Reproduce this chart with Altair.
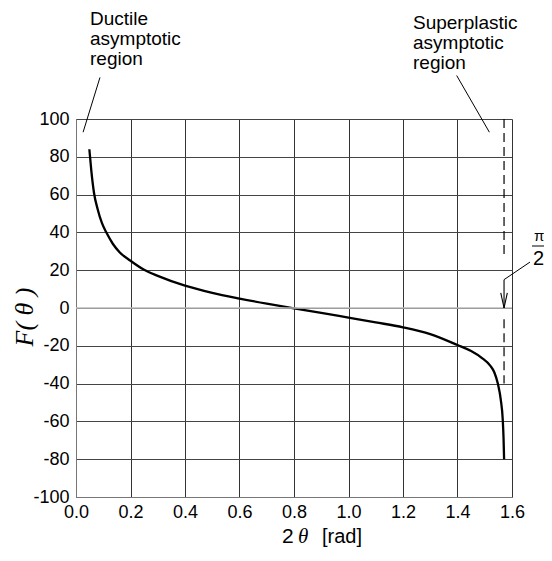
import altair as alt
import pandas as pd
import math

# ---- data ----
two_theta = [0.049, 0.056, 0.066, 0.08, 0.095, 0.113, 0.135, 0.16, 0.2, 0.25, 0.3,
             0.4, 0.5, 0.6, 0.7, 0.8, 0.9, 1.0, 1.1, 1.2, 1.3, 1.4, 1.45, 1.49,
             1.52, 1.535, 1.548, 1.559, 1.566, 1.569, 1.571]
F_values = [84, 73, 61, 52, 45, 39.5, 34, 29.5, 25, 20.2, 17,
            11.8, 8, 5, 2.3, -0.2, -2.6, -5.1, -7.6, -10.2, -13.8, -19.6, -22.8, -26.5,
            -30.5, -34, -40, -48.7, -59, -69, -80]

x_ticks = [0.0, 0.2, 0.4, 0.6, 0.8, 1.0, 1.2, 1.4, 1.6]
y_ticks = [-100, -80, -60, -40, -20, 0, 20, 40, 60, 80, 100]

half_pi = math.pi / 2
# dashed asymptote segments (y ranges)
dash_y1 = [100, -6]
dash_y2 = [28, -40]

# leader lines: (x, y) -> (x2, y2)
lead_x = [0.088, 1.397, half_pi]
lead_y = [122, 123, 15]
lead_x2 = [0.026, 1.517, 1.666]
lead_y2 = [93, 93, 24.3]

# arrow (vertical shaft + head arms)
arrow_x = [half_pi, half_pi - 0.012, half_pi + 0.012]
arrow_y = [15, 8, 8]
arrow_x2 = [half_pi, half_pi, half_pi]
arrow_y2 = [0, 0, 0]

SANS = "Liberation Sans"
SERIF = "Liberation Serif"

curve_df = pd.DataFrame({"x": two_theta, "y": F_values})
dash_df = pd.DataFrame({"x": [half_pi, half_pi], "y": dash_y1, "y2": dash_y2})
lead_df = pd.DataFrame({"x": lead_x, "y": lead_y, "x2": lead_x2, "y2": lead_y2})
arrow_df = pd.DataFrame({"x": arrow_x, "y": arrow_y, "x2": arrow_x2, "y2": arrow_y2})

xscale = alt.Scale(domain=[0, 1.6], nice=False, zero=False)
yscale = alt.Scale(domain=[-100, 100], nice=False, zero=False)

x_axis = alt.Axis(values=x_ticks, format=".1f", title=None, grid=True, ticks=False,
                  labelPadding=6, labelFontSize=18, labelFont=SANS, labelColor="#000",
                  labelFlush=False, labelOverlap=False,
                  gridColor="#333", gridOpacity=1, domainColor="#777")
y_axis = alt.Axis(values=y_ticks, title=None, grid=True, ticks=False,
                  labelExpr="'' + datum.value",
                  labelPadding=7, labelFontSize=18, labelFont=SANS, labelColor="#000",
                  labelFlush=False, labelOverlap=False,
                  gridColor="#444", gridOpacity=1, domainColor="#777")

X = alt.X("x:Q", scale=xscale, axis=x_axis)
Y = alt.Y("y:Q", scale=yscale, axis=y_axis)

curve = alt.Chart(curve_df).mark_line(color="black", strokeWidth=2.3,
                                       interpolate="monotone").encode(x=X, y=Y)

zero = alt.Chart(pd.DataFrame({"y": [0]})).mark_rule(color="#bbb", strokeWidth=1.3).encode(
    y=Y,
)

dashed = alt.Chart(dash_df).mark_rule(color="black", strokeWidth=1.2,
                                      strokeDash=[9, 5]).encode(
    x=X, y=Y, y2="y2:Q",
)

leaders = alt.Chart(lead_df).mark_rule(color="black", strokeWidth=1).encode(
    x=X, y=Y, x2="x2:Q", y2="y2:Q",
)

arrow = alt.Chart(arrow_df).mark_rule(color="black", strokeWidth=1.1).encode(
    x=X, y=Y, x2="x2:Q", y2="y2:Q",
)

def label(text, x, y, size, font=SANS, style="normal", align="left",
          baseline="top", angle=0, line_height=20):
    return alt.Chart(pd.DataFrame({"t": [text]})).mark_text(
        font=font, fontSize=size, fontStyle=style, align=align, baseline=baseline,
        angle=angle, lineBreak="\n", lineHeight=line_height, color="black",
    ).encode(x=alt.value(x), y=alt.value(y), text="t:N")

ann1 = label("Ductile\nasymptotic\nregion", 14, -109, 19)
ann2 = label("Superplastic\nasymptotic\nregion", 337, -105, 19)
pi_top = label("π", 458, 122, 15, baseline="alphabetic")
pi_bot = label("2", 457, 146, 20, baseline="alphabetic")
pi_bar = alt.Chart(pd.DataFrame({"a": [0]})).mark_rule(color="black", strokeWidth=1).encode(
    x=alt.value(456), x2=alt.value(468), y=alt.value(127))

xt_2 = label("2", 206, 424, 21, baseline="alphabetic")
xt_th = label("θ", 222, 424, 21, font=SERIF, style="italic", baseline="alphabetic")
xt_rad = label("[rad]", 246, 424, 20, baseline="alphabetic")
yt = label("F( θ )", -51, 198, 26, font=SERIF, style="italic", align="center",
           baseline="middle", angle=270)

chart = alt.layer(
    curve, zero, dashed, leaders, arrow, ann1, ann2, pi_top, pi_bot, pi_bar,
    xt_2, xt_th, xt_rad, yt,
).properties(
    width=436, height=378,
    autosize=alt.AutoSizeParams(type="none"),
    padding={"left": 68, "top": 111, "right": 32, "bottom": 52},
).configure_view(stroke=None)

chart.save("out.html", embed_options={"renderer": "svg", "actions": False})
